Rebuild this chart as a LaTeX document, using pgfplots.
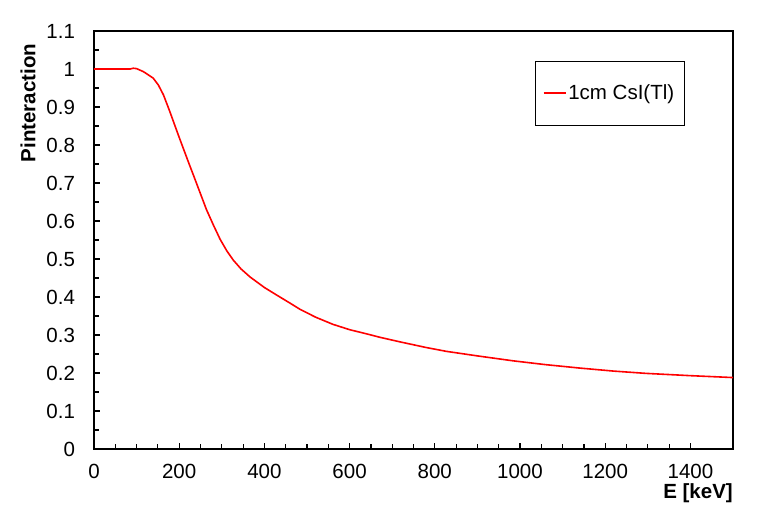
\documentclass[border=0pt]{standalone}
\usepackage{pgfplots}
\pgfplotsset{compat=1.18}
\usepackage{fontspec}
\setmainfont{Liberation Sans}
\newcommand{\ff}{\fontsize{20.5}{24}\selectfont}
\begin{document}
\ff
\begin{tikzpicture}[x=1pt,y=1pt]
\useasboundingbox (-94,-71) rectangle (669,449);
\begin{axis}[
  at={(0,0)}, anchor=south west,
  scale only axis, width=639pt, height=418pt,
  xmin=0, xmax=1500, ymin=0, ymax=1.1,
  xtick={0,200,...,1400}, minor x tick num=3,
  ytick={0,0.1,...,1.1}, minor y tick num=1,
  yticklabels={0,0.1,0.2,0.3,0.4,0.5,0.6,0.7,0.8,0.9,1,1.1},
  xtick pos=left, ytick pos=left,
  tick align=inside,
  major tick length=6pt, minor tick length=5pt,
  tick style={black, line width=1.2pt},
  axis line style={black, line width=1.6pt},
  /pgf/number format/assume math mode=true,
  /pgf/number format/1000 sep={},
  tick label style={font=\ff},
  xticklabel style={yshift=-8pt},
  yticklabel style={xshift=-12pt},
  ylabel={\bfseries Pinteraction},
  ylabel style={font=\ff, at={(-66pt,0.828)}, anchor=center, rotate=0},
  xlabel={\bfseries E [keV]},
  xlabel style={font=\ff, at={(rel axis cs:1,0)}, anchor=north east, yshift=-34pt, inner sep=0pt},
  legend style={draw=black, at={(0.924,0.928)}, anchor=north east,
    inner xsep=8pt, inner ysep=21pt, font=\ff},
  legend cell align=left,
  legend image code/.code={\draw[#1] (0pt,0pt) -- (22pt,0pt);},
]
\addplot[red, line width=1.6pt] coordinates {
(0,1.000) (50,1.000) (85,1.000) (92,1.002) (100,1.001) (116,0.993)
(139,0.976) (151,0.958) (163,0.932) (178,0.888) (198,0.826) (221,0.757)
(237,0.710) (264,0.630) (280,0.590) (296,0.552) (312,0.521) (327,0.497)
(345,0.474) (366,0.453) (400,0.425) (429,0.405) (460,0.384) (483,0.368)
(520,0.347) (561,0.328) (600,0.314) (640,0.303) (671,0.294) (718,0.282)
(780,0.267) (827,0.257) (900,0.245) (984,0.232) (1060,0.222) (1140,0.213)
(1220,0.205) (1296,0.199) (1400,0.193) (1500,0.188)
};
\addlegendentry{1cm CsI(Tl)}
\end{axis}
\end{tikzpicture}
\end{document}
